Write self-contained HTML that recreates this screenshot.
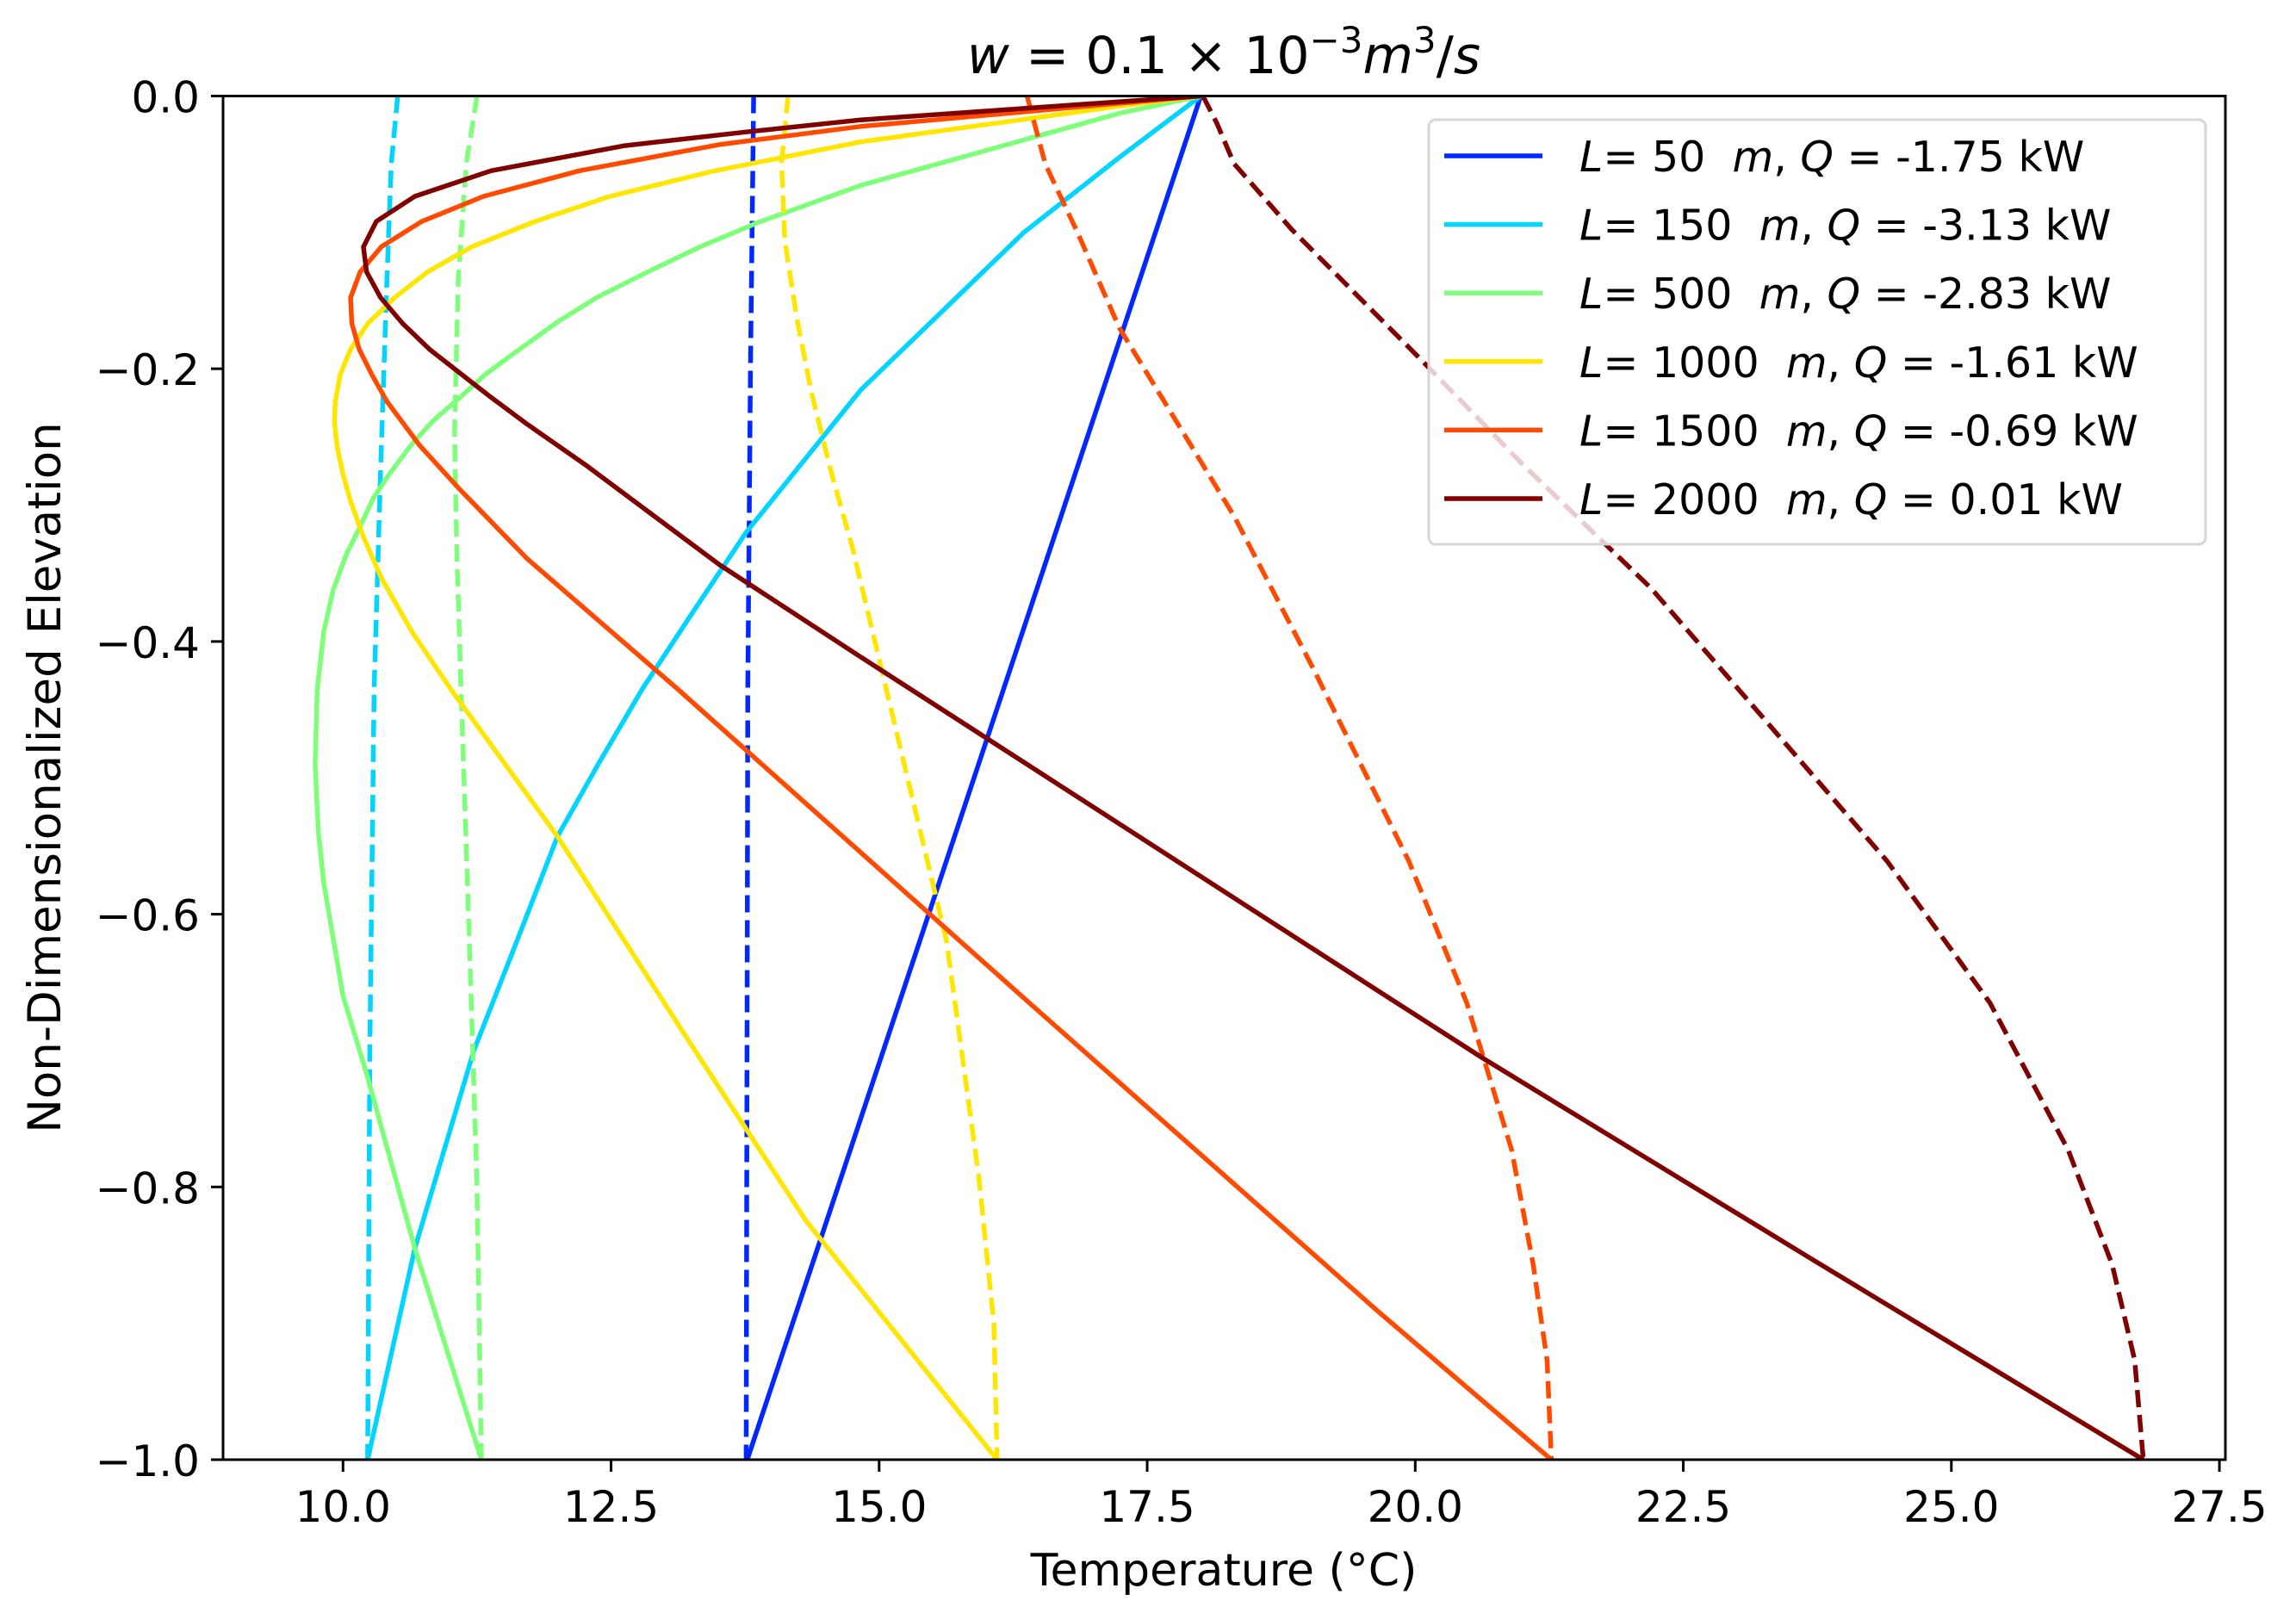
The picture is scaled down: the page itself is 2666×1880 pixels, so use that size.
<!DOCTYPE html>
<html><head><meta charset="utf-8"><style>
html,body{margin:0;padding:0;background:#fff;}
svg{display:block;font-family:"DejaVu Sans","Liberation Sans",sans-serif;}
.pre{white-space:pre;}
</style></head><body>
<svg id="chart" width="2666" height="1880" viewBox="0 0 2666 1880" xmlns="http://www.w3.org/2000/svg">
<defs><clipPath id="plotclip"><rect x="259" y="111.5" width="2325" height="1583.5"/></clipPath></defs>
<rect width="2666" height="1880" fill="#fff"/>
<text x="1421" y="85" font-size="60" text-anchor="middle"><tspan font-style="italic">w</tspan> = 0.1 × 10<tspan font-size="42" dy="-24">−3</tspan><tspan font-style="italic" dy="24">m</tspan><tspan font-size="42" dy="-24">3</tspan><tspan dy="24">/</tspan><tspan font-style="italic">s</tspan></text>
<g id="series" clip-path="url(#plotclip)"></g>
<rect x="259" y="111.5" width="2325" height="1583.5" fill="none" stroke="#000" stroke-width="3"/>
<g id="xticks"></g>
<g id="yticks"></g>
<text x="1421" y="1841" font-size="52" text-anchor="middle">Temperature (°C)</text>
<text transform="translate(70,903) rotate(-90)" font-size="53" text-anchor="middle">Non-Dimensionalized Elevation</text>
<g id="legend"></g>
</svg>
<script>
const xTicks = [10.0, 12.5, 15.0, 17.5, 20.0, 22.5, 25.0, 27.5];
const yTicks = [0.0, -0.2, -0.4, -0.6, -0.8, -1.0];
const lengths = [50, 150, 500, 1000, 1500, 2000];
const heatQ = ["-1.75", "-3.13", "-2.83", "-1.61", "-0.69", "0.01"];
const colors = ["#0028ff", "#00d4ff", "#7dff7a", "#ffe600", "#ff4a00", "#800000"];

const solidT_L50 = [18.0, 13.77];
const solidZ_L50 = [0, -1];
const dashT_L50 = [13.83, 13.8, 13.775, 13.76];
const dashZ_L50 = [0, -0.2, -0.435, -1];

const solidT_L150 = [18.0, 17.24, 16.35, 14.83, 13.76, 13.25, 12.79, 12.38, 12.0, 11.62, 11.22, 10.67, 10.23];
const solidZ_L150 = [0, -0.045, -0.1, -0.2155, -0.32, -0.38, -0.435, -0.49, -0.543, -0.62, -0.7, -0.845, -1];
const dashT_L150 = [10.51, 10.45, 10.41, 10.35, 10.29, 10.25, 10.23];
const dashZ_L150 = [0, -0.05, -0.134, -0.275, -0.435, -0.7, -1];

const solidT_L500 = [18.0, 17.24, 14.83, 13.87, 13.33, 12.867, 12.366, 12.007, 11.648, 11.326, 11.11, 10.842, 10.645, 10.43, 10.286, 10.16, 10.035, 9.909, 9.82, 9.76, 9.74, 9.77, 9.82, 10.0, 10.22, 10.67, 11.29];
const solidZ_L500 = [0, -0.0127, -0.0655, -0.0928, -0.1106, -0.128, -0.1478, -0.1653, -0.1856, -0.2042, -0.2197, -0.238, -0.2549, -0.2775, -0.2944, -0.3155, -0.3353, -0.362, -0.393, -0.435, -0.49, -0.54, -0.577, -0.66, -0.717, -0.845, -1];
const dashT_L500 = [11.25, 11.15, 11.075, 11.04, 11.06, 11.1, 11.17, 11.25, 11.29];
const dashZ_L500 = [0, -0.049, -0.134, -0.2465, -0.331, -0.435, -0.6, -0.8, -1];

const solidT_L1000 = [18.0, 17.24, 14.83, 13.44, 12.49, 11.79, 11.2, 10.788, 10.483, 10.232, 10.071, 9.974, 9.928, 9.92, 9.946, 10.0, 10.071, 10.179, 10.358, 10.645, 11.003, 12.0, 13.2, 14.32, 16.1];
const solidZ_L1000 = [0, -0.0074, -0.0336, -0.0553, -0.0736, -0.092, -0.1106, -0.129, -0.1478, -0.1667, -0.1856, -0.2042, -0.224, -0.2394, -0.2578, -0.2775, -0.2972, -0.3212, -0.3536, -0.3931, -0.4348, -0.543, -0.69, -0.825, -1];
const dashT_L1000 = [14.15, 14.09, 14.12, 14.23, 14.37, 14.55, 14.75, 15.17, 15.63, 15.93, 16.07, 16.1];
const dashZ_L1000 = [0, -0.049, -0.1055, -0.162, -0.218, -0.275, -0.331, -0.469, -0.62, -0.793, -0.9, -1];

const solidT_L1500 = [18.0, 14.83, 13.51, 12.204, 11.31, 10.734, 10.357, 10.16, 10.071, 10.082, 10.15, 10.268, 10.41, 10.716, 11.075, 11.72, 13.12, 16.4, 19.65, 21.27];
const solidZ_L1500 = [0, -0.0223, -0.0356, -0.0548, -0.0736, -0.092, -0.1106, -0.129, -0.1478, -0.1667, -0.1856, -0.2042, -0.224, -0.2563, -0.2873, -0.3395, -0.4348, -0.665, -0.891, -1];
const dashT_L1500 = [16.38, 16.55, 16.85, 17.24, 18.31, 19.05, 19.94, 20.48, 20.9, 21.1, 21.23, 21.27];
const dashZ_L1500 = [0, -0.05, -0.1, -0.17, -0.308, -0.42, -0.561, -0.665, -0.773, -0.857, -0.927, -1];

const solidT_L2000 = [18.0, 14.83, 13.8, 12.63, 11.38, 10.67, 10.31, 10.19, 10.22, 10.35, 10.555, 10.805, 11.36, 11.72, 12.26, 13.51, 14.83, 19.65, 20.64, 23.7, 26.79];
const solidZ_L2000 = [0, -0.0175, -0.026, -0.0364, -0.0548, -0.0736, -0.092, -0.1106, -0.129, -0.1478, -0.1667, -0.1856, -0.2197, -0.2408, -0.2704, -0.3437, -0.4114, -0.656, -0.706, -0.853, -1];
const dashT_L2000 = [18.02, 18.15, 18.31, 18.85, 19.38, 20.05, 21.0, 22.2, 24.4, 25.36, 26.09, 26.5, 26.71, 26.79];
const dashZ_L2000 = [0, -0.02, -0.0496, -0.098, -0.14, -0.193, -0.27, -0.361, -0.561, -0.665, -0.773, -0.857, -0.927, -1];

const solidT = [solidT_L50, solidT_L150, solidT_L500, solidT_L1000, solidT_L1500, solidT_L2000];
const solidZ = [solidZ_L50, solidZ_L150, solidZ_L500, solidZ_L1000, solidZ_L1500, solidZ_L2000];
const dashT = [dashT_L50, dashT_L150, dashT_L500, dashT_L1000, dashT_L1500, dashT_L2000];
const dashZ = [dashZ_L50, dashZ_L150, dashZ_L500, dashZ_L1000, dashZ_L1500, dashZ_L2000];

const NS = "http://www.w3.org/2000/svg";
function X(t){ return 398.3 + (t - 10) * 124.5; }
function Y(z){ return 111.5 - z * 1583.5; }
function mk(tag, attrs){ const e = document.createElementNS(NS, tag); for (const k in attrs) e.setAttribute(k, attrs[k]); return e; }

const series = document.getElementById('series');
for (let i = 0; i < lengths.length; i++) {
  const ps = solidT[i].map((t, j) => X(t).toFixed(1) + ',' + Y(solidZ[i][j]).toFixed(1)).join(' ');
  const s = mk('polyline', {points: ps, fill: 'none', stroke: colors[i], 'stroke-width': 5.5, 'stroke-linejoin': 'round'});
  
  
  series.appendChild(s);
  const pd = dashT[i].map((t, j) => X(t).toFixed(1) + ',' + Y(dashZ[i][j]).toFixed(1)).join(' ');
  const d = mk('polyline', {points: pd, fill: 'none', stroke: colors[i], 'stroke-width': 5.5, 'stroke-dasharray': '20 9'});
  
  
  series.appendChild(d);
}

const xg = document.getElementById('xticks');
xTicks.forEach(v => {
  const x = X(v);
  const tk = mk('line', {x1: x, x2: x, y1: 1695, y2: 1709, stroke: '#000', 'stroke-width': 3});
  
  
  xg.appendChild(tk);
  const lb = mk('text', {x: x, y: 1767, 'font-size': 50, 'text-anchor': 'middle'});
  lb.textContent = v.toFixed(1);
  
  
  xg.appendChild(lb);
});
const yg = document.getElementById('yticks');
yTicks.forEach(v => {
  const y = Y(v);
  const tk = mk('line', {x1: 245, x2: 259, y1: y, y2: y, stroke: '#000', 'stroke-width': 3});
  
  
  yg.appendChild(tk);
  const lb = mk('text', {x: 232, y: y + 19, 'font-size': 50, 'text-anchor': 'end'});
  lb.textContent = (v < 0 ? '\u2212' : '') + Math.abs(v).toFixed(1);
  
  
  yg.appendChild(lb);
});

const lg = document.getElementById('legend');
const box = mk('rect', {x: 1659, y: 139, width: 902, height: 493, rx: 8, fill: '#fff', 'fill-opacity': 0.8, stroke: '#d6d6d6', 'stroke-width': 3});


lg.appendChild(box);
for (let i = 0; i < lengths.length; i++) {
  const y = 181 + i * 79.6;
  const ln = mk('line', {x1: 1677, x2: 1791, y1: y, y2: y, stroke: colors[i], 'stroke-width': 5.5});
  
  
  lg.appendChild(ln);
  const tx = mk('text', {x: 1834, y: y + 18, 'font-size': 49, 'class': 'pre'});
  tx.innerHTML = '<tspan font-style="italic">L</tspan>= ' + lengths[i] + '  <tspan font-style="italic">m</tspan>, <tspan font-style="italic">Q</tspan> = ' + heatQ[i] + ' kW';
  
  
  lg.appendChild(tx);
}
</script>
</body></html>
